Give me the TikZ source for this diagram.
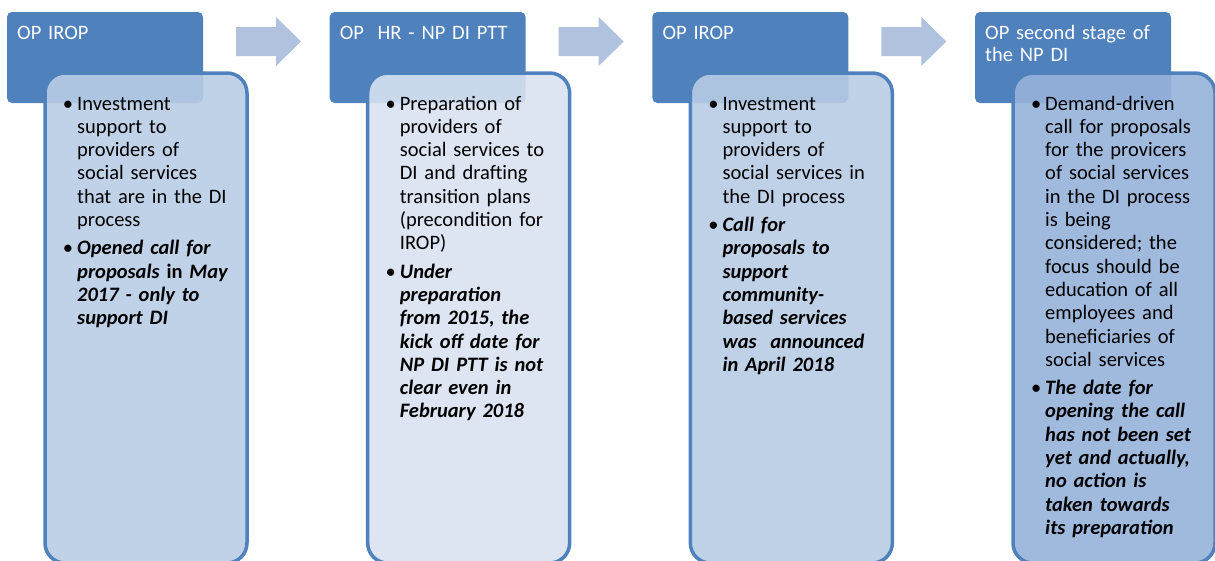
\documentclass[tikz,border=0pt]{standalone}
\usepackage{fontspec}
\setmainfont{Carlito}
\definecolor{hdr}{HTML}{4F81BD}
\definecolor{arw}{HTML}{B0C2DE}
\definecolor{bodyA}{HTML}{B9CDE5}
\definecolor{bodyB}{HTML}{D8E2F0}
\definecolor{bodyC}{HTML}{B8CCE4}
\definecolor{bodyD}{HTML}{96B2DA}
\newcommand\bul{\leavevmode\llap{\textbullet\hspace{4pt}}}
\newcommand\bitext{\bfseries\itshape}
\newcommand\bodysize{\fontsize{20.5pt}{23.3pt}\selectfont}
\newcommand\headsize{\fontsize{20.5pt}{22.7pt}\selectfont}
\begin{document}
\begin{tikzpicture}[x=1pt,y=-1pt,
  header/.style={fill=hdr, rounded corners=5pt, minimum width=196pt,
    minimum height=91pt, anchor=north west, inner sep=0pt, outer sep=0pt},
  body/.style={draw=hdr, line width=3.5pt, rounded corners=20pt,
    fill opacity=0.9, draw opacity=1, minimum width=202pt,
    minimum height=490pt, anchor=north west, inner sep=0pt, outer sep=0pt},
  htext/.style={anchor=base west, inner sep=0pt, text=white, font=\headsize,
    text width=190pt, align=left},
  btext/.style={anchor=base west, inner sep=0pt, text=black, font=\bodysize,
    text width=200pt, align=left},
  blockarrow/.style={fill=arw}]
\useasboundingbox (0,0) rectangle (1215,560);
\clip (0,0) rectangle (1215,560);

% stage 1
\node[header] (h1) at (7,12) {};
\node[body, fill=bodyA] (b1) at (45,73) {};
\node[htext] (ht1) at (17,39) {OP IROP};
\node[btext] (bt1) at (77,110) {\bul Investment\\support to\\providers of\\social services\\that are in the DI\\process\\[5pt]
\bul{\bitext Opened call for}\\{\bitext proposals} {\bfseries in} {\bitext May}\\{\bitext 2017 - only to}\\{\bitext support DI}};

% stage 2
\node[header] (h2) at (329.67,12) {};
\node[body, fill=bodyB] (b2) at (367.67,73) {};
\node[htext] (ht2) at (339.67,39) {OP\ \ HR - NP DI PTT};
\node[btext] (bt2) at (399.67,110) {\bul Preparation of\\providers of\\social services to\\DI and drafting\\transition plans\\(precondition for\\IROP)\\[5pt]
\bul{\bitext Under}\\{\bitext preparation}\\{\bitext from 2015, the}\\{\bitext kick off date for}\\{\bitext NP DI PTT is not}\\{\bitext clear even in}\\{\bitext February 2018}};

% stage 3
\node[header] (h3) at (652.33,12) {};
\node[body, fill=bodyC] (b3) at (690.33,73) {};
\node[htext] (ht3) at (662.33,39) {OP IROP};
\node[btext] (bt3) at (722.33,110) {\bul Investment\\support to\\providers of\\social services in\\the DI process\\[5pt]
\bul{\bitext Call for}\\{\bitext proposals to}\\{\bitext support}\\{\bitext community-}\\{\bitext based services}\\{\bitext was\ \ announced}\\{\bitext in April 2018}};

% stage 4
\node[header] (h4) at (975,12) {};
\node[body, fill=bodyD] (b4) at (1013,73) {};
\node[htext] (ht4) at (985,39) {OP second stage of\\the NP DI};
\node[btext] (bt4) at (1045,110) {\bul Demand-driven\\call for proposals\\for the provicers\\of social services\\in the DI process\\is being\\considered; the\\focus should be\\education of all\\employees and\\beneficiaries of\\social services\\[5pt]
\bul{\bitext The date for}\\{\bitext opening the call}\\{\bitext has not been set}\\{\bitext yet and actually,}\\{\bitext no action is}\\{\bitext taken towards}\\{\bitext its preparation}};

% block arrows between the stages
\foreach \dx in {0,322.67,645.33} {
  \fill[blockarrow, xshift=\dx pt]
    (236,27) -- (276,27) -- (276,17) -- (301,41.5) -- (276,66) -- (276,56) -- (236,56) -- cycle;
}
\end{tikzpicture}
\end{document}
